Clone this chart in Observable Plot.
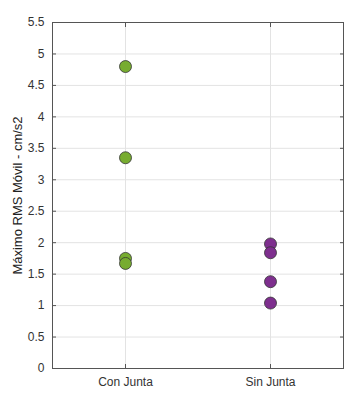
<!DOCTYPE html>
<html><head><meta charset="utf-8">
<script src="https://cdn.jsdelivr.net/npm/d3@7"></script>
<script src="https://cdn.jsdelivr.net/npm/@observablehq/plot@0.6"></script>
<style>body{margin:0;background:#fff;font-family:"Liberation Sans",Arial,sans-serif}</style>
</head><body><div id="chart"></div>
<script>
const categories = ["Con Junta", "Sin Junta"];
const conJunta = [4.80, 3.35, 1.75, 1.67];
const sinJunta = [1.98, 1.84, 1.38, 1.04];
const colors = ["#77ac30", "#7e2f8e"];
const yTicks = [0,0.5,1,1.5,2,2.5,3,3.5,4,4.5,5,5.5];
const yLabel = "Máximo RMS Móvil - cm/s2";

const data = [
  ...conJunta.map(v => ({cat: categories[0], v})),
  ...sinJunta.map(v => ({cat: categories[1], v}))
];

const chart = Plot.plot({
  width: 360, height: 405,
  marginLeft: 52, marginRight: 17, marginTop: 22, marginBottom: 37,
  style: {fontFamily: "Liberation Sans, Arial, sans-serif", fontSize: "12px", color: "#333"},
  x: {type: "point", domain: categories, padding: 0.5},
  y: {domain: [0, 5.5]},
  color: {domain: categories, range: colors},
  marks: [
    Plot.gridY(yTicks, {stroke: "#e3e3e3", strokeOpacity: 1}),
    Plot.gridX(categories, {stroke: "#e3e3e3", strokeOpacity: 1}),
    Plot.frame({stroke: "#555"}),
    Plot.axisY(yTicks, {anchor: "left", tickSize: -4, tickPadding: 12, label: null, stroke: "#555", fill: "#333", fontSize: 12, tickFormat: d => String(d)}),
    Plot.axisY(yTicks, {anchor: "right", tickSize: -4, tickFormat: () => "", label: null, stroke: "#555"}),
    Plot.axisX(categories, {anchor: "bottom", tickSize: -4, tickPadding: 13, label: null, stroke: "#555", fill: "#333", fontSize: 12}),
    Plot.axisX(categories, {anchor: "top", tickSize: -4, tickFormat: () => "", label: null, stroke: "#555"}),
    Plot.text([yLabel], {frameAnchor: "left", textAnchor: "middle", dx: -35, rotate: -90, fontSize: 13, fill: "#222"}),
    Plot.dot(data, {x: "cat", y: "v", fill: "cat", stroke: "#333", strokeWidth: 0.8, r: 6})
  ]
});
document.getElementById("chart").appendChild(chart);
</script></body></html>
